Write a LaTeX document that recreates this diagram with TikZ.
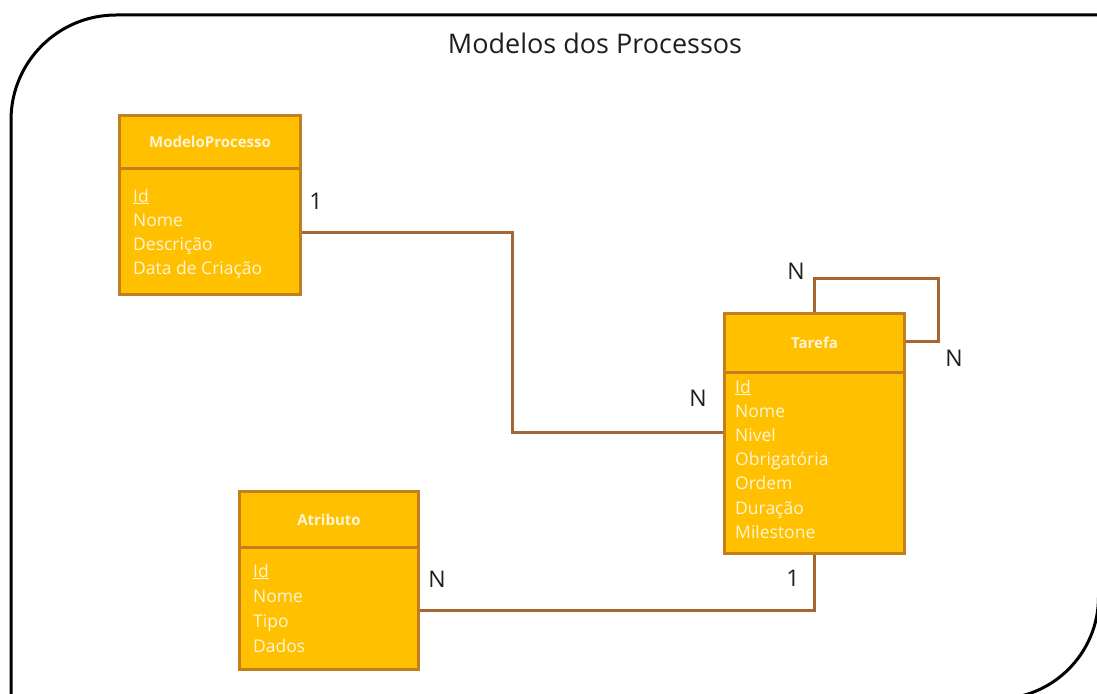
\documentclass[tikz,border=0pt]{standalone}
\usepackage{fontspec}
\setmainfont{Open Sans}
\usetikzlibrary{calc}

\definecolor{entfill}{RGB}{255,192,0}
\definecolor{entline}{RGB}{196,126,30}
\definecolor{relline}{RGB}{165,102,50}
\definecolor{enttext}{RGB}{255,244,214}
\definecolor{labtext}{RGB}{30,30,30}

\tikzset{
  entity/.style={draw=entline, fill=entfill, line width=3pt, rectangle,
                 anchor=north west, inner sep=0pt},
  enthead/.style={font=\fontsize{15}{18}\selectfont\bfseries, text=enttext, inner sep=0pt},
  attr/.style={font=\fontsize{17.5}{20}\selectfont, text=enttext, anchor=base west, inner sep=0pt},
  divider/.style={draw=entline, line width=3pt},
  rel/.style={draw=relline, line width=3pt},
  card/.style={font=\fontsize{23}{26}\selectfont, text=labtext, inner sep=0pt},
  outline/.style={draw=black, line width=3pt},
}

\begin{document}
\begin{tikzpicture}[x=1pt,y=-1pt]
\useasboundingbox (0,0) rectangle (1097,693);
\clip (0,0) rectangle (1097,693);

% surrounding frame with two rounded corners
\draw[outline] (11,699) -- (11,120)
  arc[start angle=180, end angle=270, radius=105]
  -- (1098.5,15) -- (1098.5,597)
  arc[start angle=0, end angle=90, radius=102]
  -- cycle;

\node[font=\fontsize{27}{30}\selectfont, text=labtext, anchor=base, inner sep=0pt]
  (title) at (595,53) {Modelos dos Processos};

% entity: ModeloProcesso
\node[entity, minimum width=181pt, minimum height=179pt] (mp) at (118,114) {};
\draw[divider] ($(mp.north west)+(0,54)$) -- ($(mp.north east)+(0,54)$);
\node[enthead] (mp-h) at ($(mp.north)+(0,28)$) {ModeloProcesso};
\foreach \t [count=\i] in {\underline{Id},Nome,Descrição,Data de Criação}
  \node[attr] (mp-a\i) at ($(mp.north west)+(15,{88+24.3*(\i-1)})$) {\t};

% entity: Tarefa
\node[entity, minimum width=180pt, minimum height=240pt] (tarefa) at (723,312) {};
\draw[divider] ($(tarefa.north west)+(0,60)$) -- ($(tarefa.north east)+(0,60)$);
\node[enthead] (tarefa-h) at ($(tarefa.north)+(0,31)$) {Tarefa};
\foreach \t [count=\i] in {\underline{Id},Nome,Nivel,Obrigatória,Ordem,Duração,Milestone}
  \node[attr] (tarefa-a\i) at ($(tarefa.north west)+(12,{81+24.2*(\i-1)})$) {\t};

% entity: Atributo
\node[entity, minimum width=179pt, minimum height=178pt] (atr) at (238,490) {};
\draw[divider] ($(atr.north west)+(0,57)$) -- ($(atr.north east)+(0,57)$);
\node[enthead] (atr-h) at ($(atr.north)+(0,30)$) {Atributo};
\foreach \t [count=\i] in {\underline{Id},Nome,Tipo,Dados}
  \node[attr] (atr-a\i) at ($(atr.north west)+(15,{87+25*(\i-1)})$) {\t};

% relationships
\draw[rel] ($(mp.north east)+(0,118)$) -| ($(tarefa.north west)+(-211,120)$)
  -- ($(tarefa.north west)+(0,120)$);
\draw[rel] ($(atr.north east)+(0,120)$) -| (tarefa.south);
\draw[rel] (tarefa.north) |- ($(tarefa.north east)+(32,-34)$)
  |- ($(tarefa.north east)+(0,29)$);

% cardinalities
\node[card] (c-mp)   at (316,201) {1};
\node[card] (c-tl)   at (698,398) {N};
\node[card] (c-tt)   at (796,271) {N};
\node[card] (c-tr)   at (954,358) {N};
\node[card] (c-tb)   at (793,578) {1};
\node[card] (c-atr)  at (437,579) {N};
\end{tikzpicture}
\end{document}
